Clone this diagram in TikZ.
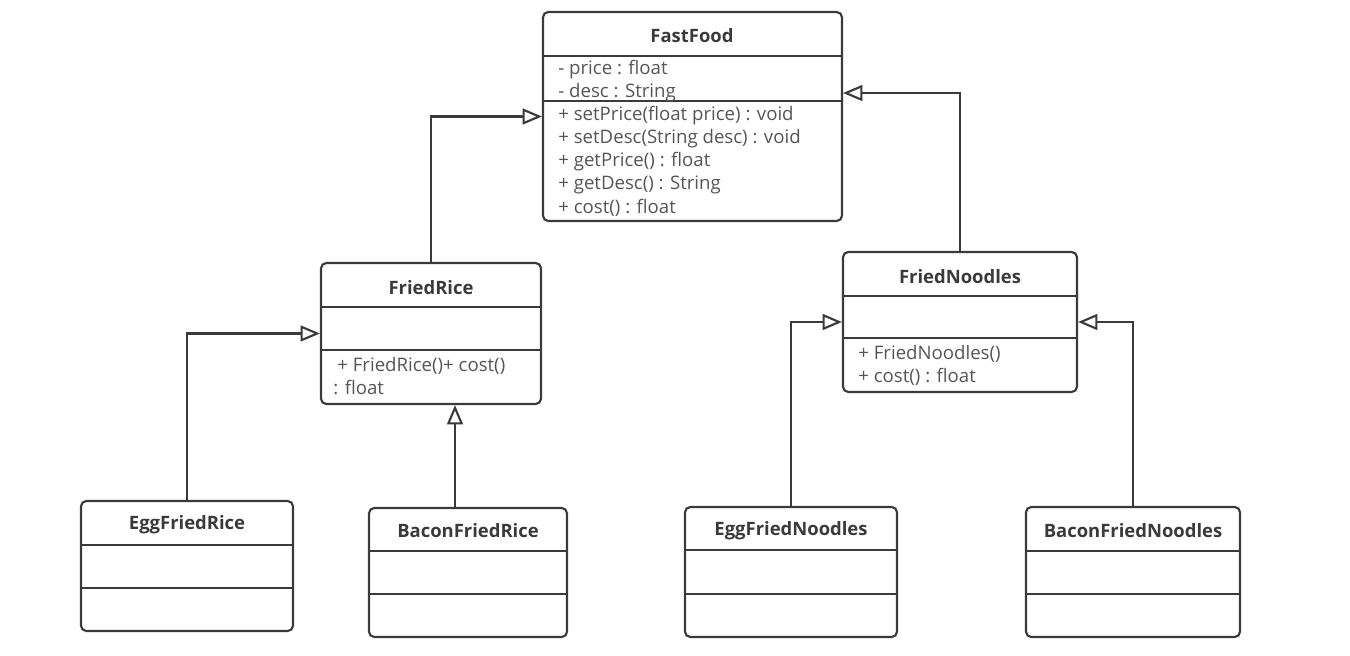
\documentclass[tikz,border=0pt]{standalone}
\usepackage{fontspec}
\setmainfont{Open Sans}
\usetikzlibrary{arrows.meta, fit}

\definecolor{umlline}{HTML}{3A3A3A}
\definecolor{umltext}{HTML}{555555}

\begin{document}
\begin{tikzpicture}[x=0.02cm, y=-0.02cm,
    cls/.style={draw=umlline, line width=1.2pt, rounded corners=3pt, inner sep=0pt},
    sep/.style={draw=umlline, line width=1.2pt},
    title/.style={font=\bfseries\fontsize{10.5}{13}\selectfont, text=umlline, inner sep=0pt},
    member/.style={anchor=west, inner sep=0pt, font=\fontsize{10.6}{13}\selectfont, text=umltext},
    inherit/.style={draw=umlline, line width=1.2pt, -{Triangle[open, length=11pt, width=9pt, fill=white]}}]
    \useasboundingbox (0,0) rectangle (1350,656);

    % --- 1. class FastFood ---
    \node[cls, fit={(543,12) (842,221)}] (fastfood) {};
    \draw[sep] (543,56) -- (842,56);
    \draw[sep] (543,101) -- (842,101);
    \node[title] (fastfoodT) at (692,36) {FastFood};
    \node[member] (ffA1) at (558,70) {- price : float};
    \node[member] (ffA2) at (558,93) {- desc : String};
    \node[member] (ffM1) at (558,116) {+ setPrice(float price) : void};
    \node[member] (ffM2) at (558,139) {+ setDesc(String desc) : void};
    \node[member] (ffM3) at (558,162) {+ getPrice() : float};
    \node[member] (ffM4) at (558,185) {+ getDesc() : String};
    \node[member] (ffM5) at (558,208) {+ cost() : float};

    % --- 2. class FriedRice ---
    \node[cls, fit={(321,263) (541,404)}] (friedrice) {};
    \draw[sep] (321,307) -- (541,307);
    \draw[sep] (321,350) -- (541,350);
    \node[title] (friedriceT) at (431,288) {FriedRice};
    \node[member] (frM1) at (337,366) {+ FriedRice()+ cost()};
    \node[member] (frM2) at (333,388) {: float};

    % --- 3. class FriedNoodles ---
    \node[cls, fit={(843,252) (1077,392)}] (friednoodles) {};
    \draw[sep] (843,296) -- (1077,296);
    \draw[sep] (843,338) -- (1077,338);
    \node[title] (friednoodlesT) at (960,277) {FriedNoodles};
    \node[member] (fnM1) at (858,354) {+ FriedNoodles()};
    \node[member] (fnM2) at (858,377) {+ cost() : float};

    % --- 4. the four subclasses ---
    \node[cls, fit={(81,501) (293,631)}] (eggrice) {};
    \draw[sep] (81,545) -- (293,545);
    \draw[sep] (81,588) -- (293,588);
    \node[title] (eggriceT) at (187,525) {EggFriedRice};

    \node[cls, fit={(369,508) (567,637)}] (baconrice) {};
    \draw[sep] (369,551) -- (567,551);
    \draw[sep] (369,594) -- (567,594);
    \node[title] (baconriceT) at (468,531) {BaconFriedRice};

    \node[cls, fit={(685,507) (897,637)}] (eggnoodles) {};
    \draw[sep] (685,550) -- (897,550);
    \draw[sep] (685,594) -- (897,594);
    \node[title] (eggnoodlesT) at (791,531) {EggFriedNoodles};

    \node[cls, fit={(1026,507) (1240,637)}] (baconnoodles) {};
    \draw[sep] (1026,551) -- (1240,551);
    \draw[sep] (1026,594) -- (1240,594);
    \node[title] (baconnoodlesT) at (1133,531) {BaconFriedNoodles};

    % --- 5. generalisation arrows ---
    \draw[inherit] (friedrice.north) |- (fastfood.west);
    \draw[inherit] (friednoodles.north) |- ([yshift=0.47cm]fastfood.east);
    \draw[inherit] (eggrice.north) |- (friedrice.west);
    \draw[inherit] ([xshift=-0.26cm]baconrice.north) -- ([xshift=-0.26cm]baconrice.north |- friedrice.south);
    \draw[inherit] (eggnoodles.north) |- (friednoodles.west);
    \draw[inherit] (baconnoodles.north) |- (friednoodles.east);
\end{tikzpicture}
\end{document}
